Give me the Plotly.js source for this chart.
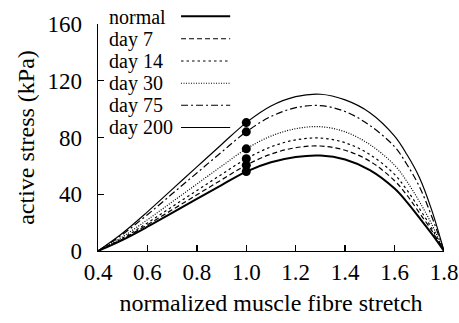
<!DOCTYPE html>
<html>
<head>
<meta charset="utf-8">
<script src="https://cdn.plot.ly/plotly-3.0.1.min.js"></script>
<style>html,body{margin:0;padding:0;background:#fff;}#chart{width:459px;height:323px;}</style>
</head>
<body>
<div id="chart"></div>
<script>
const stretch = [0.4,0.5,0.6,0.7,0.8,0.9,1.0,1.1,1.2,1.3,1.4,1.5,1.6,1.65,1.7,1.75,1.8];
const normal = [0,7.9,17.1,26.9,36.7,46.5,56,62.5,66.3,67.3,64.5,57,44,34.5,23.5,12.2,0];
const day7   = [0,8.5,18.5,29.0,39.6,50.2,60.5,68.3,72.8,74,71,63.3,49.5,39.3,27,14.5,0];
const day14  = [0,9.1,19.8,31.2,42.6,54.0,65,73.4,78.3,79.6,76.3,68,54,43,30,16.2,0];
const day30  = [0,10.1,22.0,34.6,47.2,59.8,72,81.0,86.2,87.6,84,75,60.5,49,35,19,0];
const day75  = [0,11.8,25.6,40.3,55.0,69.7,84,94.8,101.0,102.5,98.3,88.5,73.5,61,45.5,24.5,0];
const day200 = [0,12.7,27.6,43.4,59.3,75.1,90.5,102.2,108.8,110.5,106.5,97.5,81,68,52,29,0];
const seriesNames = ["normal","day 7","day 14","day 30","day 75","day 200"];
const dotStretch = [1.0,1.0,1.0,1.0,1.0,1.0];
const dotStress = [56,60.5,65,72,84,90.5];
const xTicks = [0.4,0.6,0.8,1.0,1.2,1.4,1.6,1.8];
const yTicks = [0,40,80,120,160];

const SERIF = "Liberation Serif, Times New Roman, serif";
const allSeries = [normal, day7, day14, day30, day75, day200];
const styles = [
  {width:2, dash:"solid"},
  {width:1.2, dash:"5px,3px"},
  {width:1.2, dash:"2.5px,3px"},
  {width:1.2, dash:"1px,1.5px"},
  {width:1.2, dash:"7px,3px,2px,3px"},
  {width:1.2, dash:"solid"}
];

const traces = allSeries.map((ys, i) => ({
  x: stretch, y: ys, type: "scatter", mode: "lines", name: seriesNames[i],
  line: {color: "#000", width: styles[i].width, dash: styles[i].dash, shape: "spline", smoothing: 1},
  showlegend: false, hoverinfo: "skip"
}));
traces.push({
  x: dotStretch, y: dotStress, type: "scatter", mode: "markers",
  marker: {color: "#000", size: 9}, showlegend: false, hoverinfo: "skip"
});

const legY = [1.032, 0.933, 0.835, 0.737, 0.640, 0.542];
const annotations = seriesNames.map((n, i) => ({
  text: n, xref: "paper", yref: "paper", x: 0.027, y: legY[i],
  xanchor: "left", yanchor: "middle", showarrow: false,
  font: {family: SERIF, size: 20, color: "#000"}
}));
const shapes = seriesNames.map((n, i) => ({
  type: "line", xref: "paper", yref: "paper", x0: 0.240, x1: 0.382,
  y0: legY[i] + 0.002, y1: legY[i] + 0.002,
  line: {color: "#000", width: styles[i].width, dash: styles[i].dash}
}));

function axisBase() {
  return {
    showline: true, linecolor: "#000", linewidth: 1.3,
    ticks: "inside", ticklen: 6, tickwidth: 1.3, tickcolor: "#000",
    showgrid: false, zeroline: false, mirror: false,
    tickfont: {family: SERIF, size: 23, color: "#000"}
  };
}

const layout = {
  width: 459, height: 323,
  margin: {l: 98, r: 15, t: 24, b: 72, pad: 0},
  paper_bgcolor: "#fff", plot_bgcolor: "#fff",
  font: {family: SERIF, color: "#000"},
  xaxis: Object.assign(axisBase(), {
    range: [0.4, 1.8], tickvals: xTicks, ticktext: xTicks.map(v => v.toFixed(1)),
    ticklabelstandoff: 0,
    title: {text: "normalized muscle fibre stretch", font: {family: SERIF, size: 24, color: "#000"}, standoff: 10}
  }),
  yaxis: Object.assign(axisBase(), {
    range: [0, 160], tickvals: yTicks, ticktext: yTicks.map(String),
    ticklabelstandoff: 10,
    title: {text: "active stress (kPa)", font: {family: SERIF, size: 24, color: "#000"}, standoff: 6}
  }),
  annotations: annotations, shapes: shapes, showlegend: false
};

Plotly.newPlot("chart", traces, layout, {staticPlot: true, displayModeBar: false});
</script>
</body>
</html>
